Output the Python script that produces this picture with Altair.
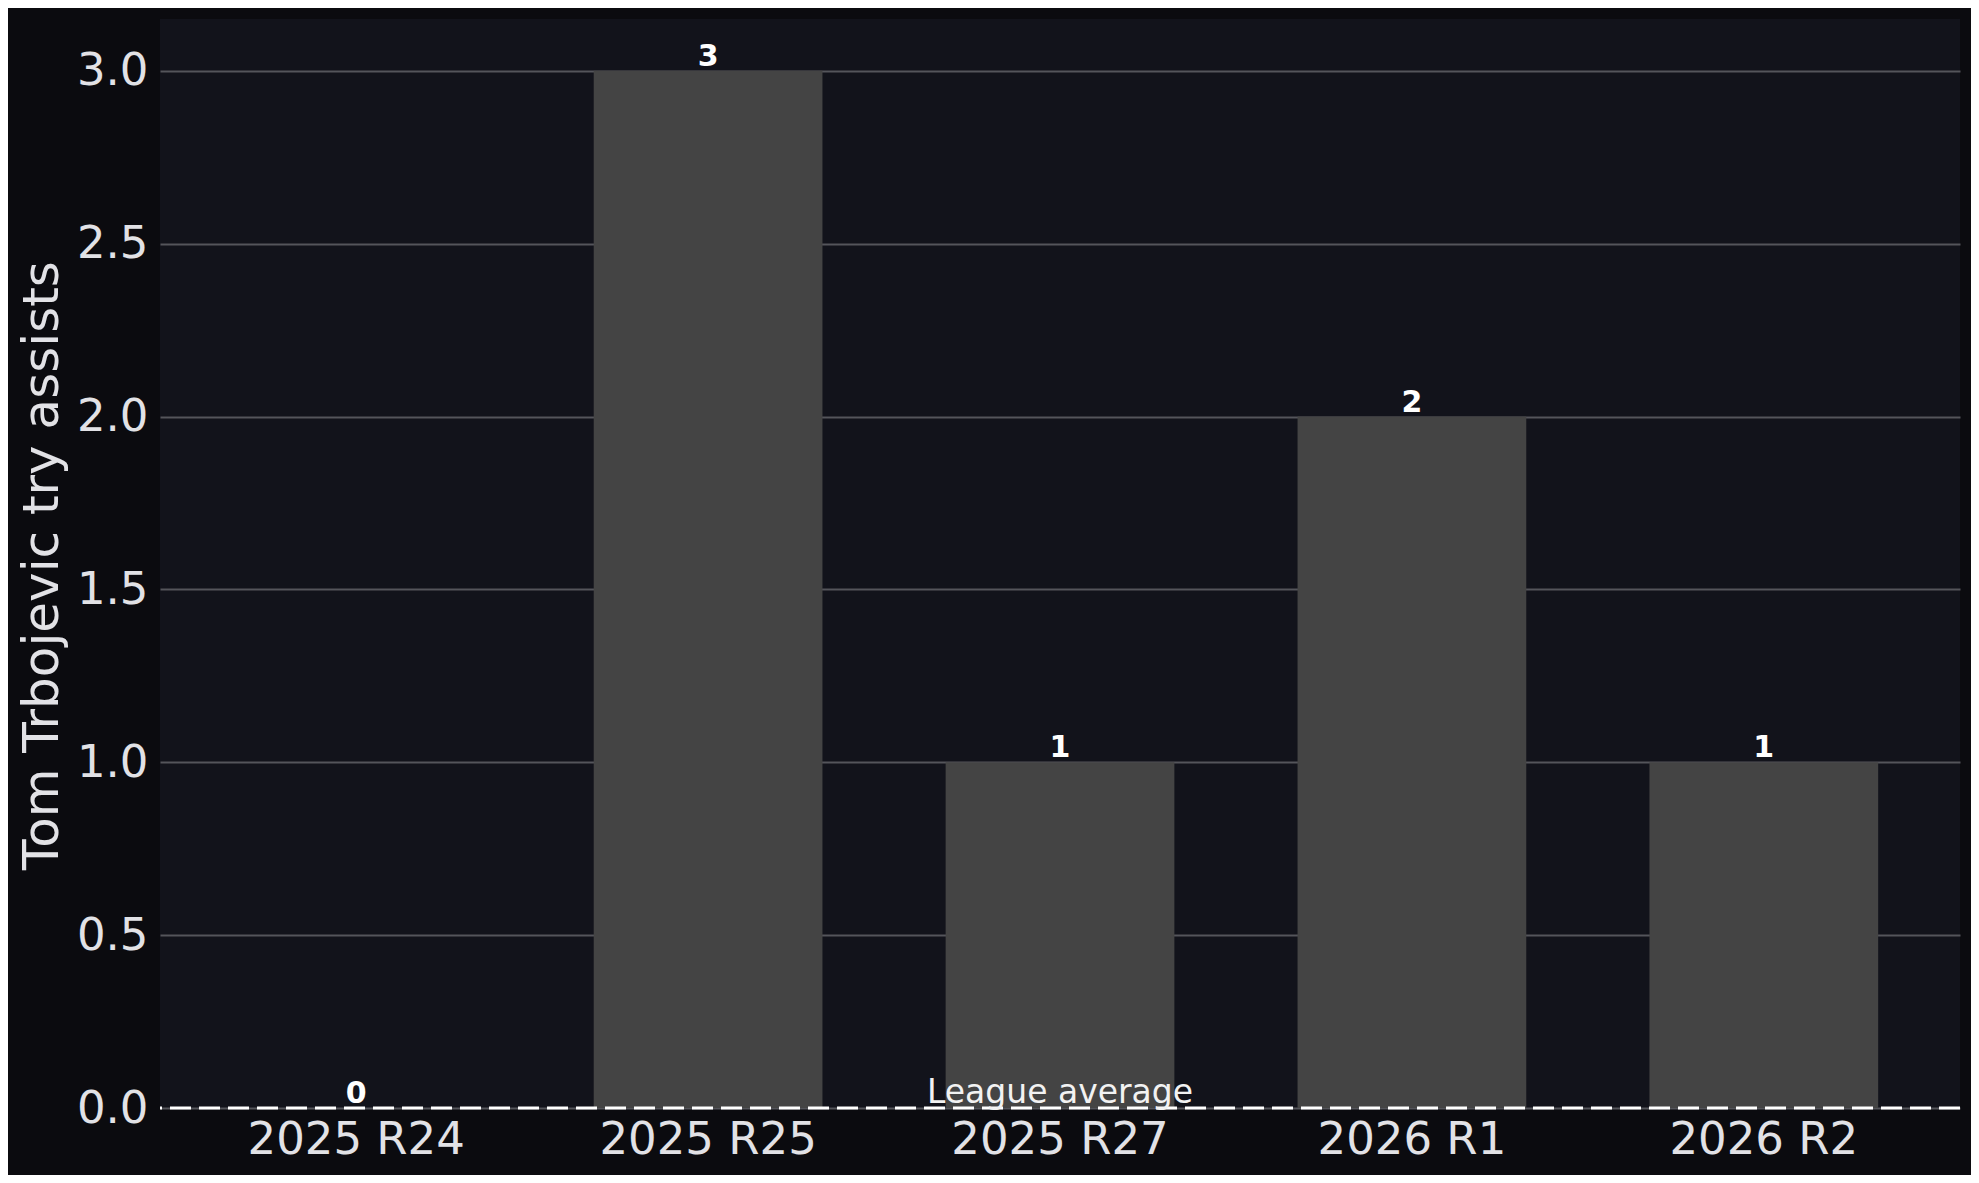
import altair as alt
import pandas as pd

rounds = ["2025 R24", "2025 R25", "2025 R27", "2026 R1", "2026 R2"]
assists = [0, 3, 1, 2, 1]
league_avg = [0.0]
league_label = ["League average"]
y_ticks = [0.0, 0.5, 1.0, 1.5, 2.0, 2.5, 3.0]

df = pd.DataFrame({"round": rounds, "assists": assists})
avg_df = pd.DataFrame({"avg": league_avg, "label": league_label})

FONT = "DejaVu Sans"
TXT = "#e2e2e6"

x_enc = alt.X(
    "round:N",
    sort=rounds,
    scale=alt.Scale(paddingInner=0.35, paddingOuter=0.2325),
    axis=alt.Axis(
        title=None,
        labelAngle=0,
        labelFontSize=45,
        labelColor=TXT,
        labelFont=FONT,
        labelLimit=0,
        tickSize=0,
        ticks=False,
        labelPadding=9,
        domain=False,
        grid=False,
    ),
)

y_enc = alt.Y(
    "assists:Q",
    scale=alt.Scale(domain=[0, 3.15], nice=False, zero=True),
    axis=alt.Axis(
        values=y_ticks,
        format=".1f",
        labelFontSize=45,
        labelColor=TXT,
        labelFont=FONT,
        labelLimit=0,
        ticks=False,
        tickSize=0,
        labelPadding=12,
        domain=False,
        grid=True,
        gridColor="#54555b",
        gridWidth=2,
        title="Tom Trbojevic try assists",
        titleFontSize=50,
        titleFont=FONT,
        titleFontWeight="normal",
        titleColor=TXT,
        titleAngle=270,
        titleX=-103,
        titleY=546,
        titleAlign="center",
        titleBaseline="alphabetic",
        titleLimit=0,
    ),
)

bars = alt.Chart(df).mark_bar(color="#444444").encode(x=x_enc, y=y_enc)

labels = alt.Chart(df).mark_text(
    baseline="alphabetic",
    dy=-5,
    fontSize=30,
    fontWeight="bold",
    font=FONT,
    color="white",
).encode(
    x=alt.X("round:N", sort=rounds),
    y=alt.Y("assists:Q"),
    text=alt.Text("assists:Q"),
)

avg_rule = alt.Chart(avg_df).mark_rule(
    color="white", strokeWidth=3, strokeDash=[21, 8]
).encode(y=alt.Y("avg:Q"))

avg_text = alt.Chart(avg_df).mark_text(
    baseline="alphabetic",
    align="center",
    dy=-5,
    fontSize=33,
    font=FONT,
    color="#f2f2f2",
).encode(y=alt.Y("avg:Q"), text="label:N")

chart = (
    alt.layer(bars, labels, avg_rule, avg_text)
    .properties(
        width=1800,
        height=1089,
        background="#0b0b0f",
        padding={"left": 152, "top": 11, "right": 11, "bottom": 67},
        autosize=alt.AutoSizeParams(type="none"),
    )
    .configure_view(fill="#12131b", stroke=None)
)

chart.save("out.html", embed_options={"renderer": "svg", "actions": False})
